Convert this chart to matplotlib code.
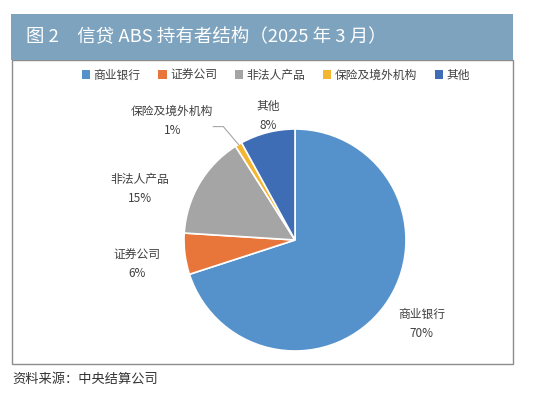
import numpy as np
import matplotlib
matplotlib.use("Agg")
import matplotlib.pyplot as plt
from matplotlib.patches import Rectangle

plt.rcParams['font.family'] = ['Noto Sans CJK SC', 'DejaVu Sans']

# data
categories = ["商业银行", "证券公司", "非法人产品", "保险及境外机构", "其他"]
shares = [70, 6, 15, 1, 8]
pct_labels = ["70%", "6%", "15%", "1%", "8%"]

colors = ["#5592CC", "#E8763A", "#A5A5A5", "#F3B632", "#3E6DB6"]
# label placement (polar, in pie radii)
label_ang = [-33.5, 188.8, 161.9, 135.9, 102.3]
label_r = [1.37, 1.44, 1.47, 1.54, 1.14]

W, H = 550, 398
fig = plt.figure(figsize=(W / 100, H / 100), dpi=100)
fig.patch.set_facecolor("white")

# frame + title bar
fig.patches.append(Rectangle((12 / W, 1 - 364 / H), 501 / W, 304 / H,
                             transform=fig.transFigure, facecolor="white",
                             edgecolor="#8c8c8c", linewidth=1.0, zorder=0))
fig.patches.append(Rectangle((11 / W, 1 - 60 / H), 502 / W, 46 / H,
                             transform=fig.transFigure, facecolor="#7DA3BF",
                             edgecolor="none", zorder=1))
fig.text(26 / W, 1 - 37.5 / H, "图 2　信贷 ABS 持有者结构（2025 年 3 月）",
         color="white", fontsize=13.3, va="center", ha="left")
fig.text(12 / W, 1 - 379 / H, "资料来源：中央结算公司", color="#333333",
         fontsize=9.5, va="center", ha="left")

# pie axes: centre (295,240) px, radius 111 px
R = 111
cx, cy = 295, 240
ax = fig.add_axes([(cx - R) / W, 1 - (cy + R) / H, 2 * R / W, 2 * R / H])
ax.set_zorder(3)
wedges, _ = ax.pie(shares, colors=colors, startangle=90, counterclock=False,
                   wedgeprops=dict(edgecolor="white", linewidth=1.2))
ax.set_xlim(-1, 1)
ax.set_ylim(-1, 1)
ax.axis("off")

for name, pct, a, r in zip(categories, pct_labels, label_ang, label_r):
    x = r * np.cos(np.radians(a))
    y = r * np.sin(np.radians(a))
    ax.text(x, y, name + "\n" + pct, ha="center", va="center", fontsize=8.5,
            color="#404040", linespacing=1.6, clip_on=False)

# leader line for the small slice
w = wedges[3]
mid = np.radians((w.theta1 + w.theta2) / 2)
lx = label_r[3] * np.cos(np.radians(label_ang[3]))
ly = label_r[3] * np.sin(np.radians(label_ang[3]))
ax.plot([lx + 0.37, lx + 0.46, np.cos(mid)], [ly - 0.05, ly - 0.05, np.sin(mid)],
        color="#a6a6a6", linewidth=0.8, clip_on=False)

leg = fig.legend(wedges, categories, loc="center", bbox_to_anchor=(276 / W, 1 - 75 / H),
                 ncol=5, frameon=False, fontsize=8.5, handlelength=0.7, handleheight=0.7,
                 handletextpad=0.3, columnspacing=1.5, labelcolor="#404040")
leg.set_zorder(3)
for h in leg.legend_handles:
    h.set_edgecolor("none")

fig.savefig("out.png", dpi=100)
